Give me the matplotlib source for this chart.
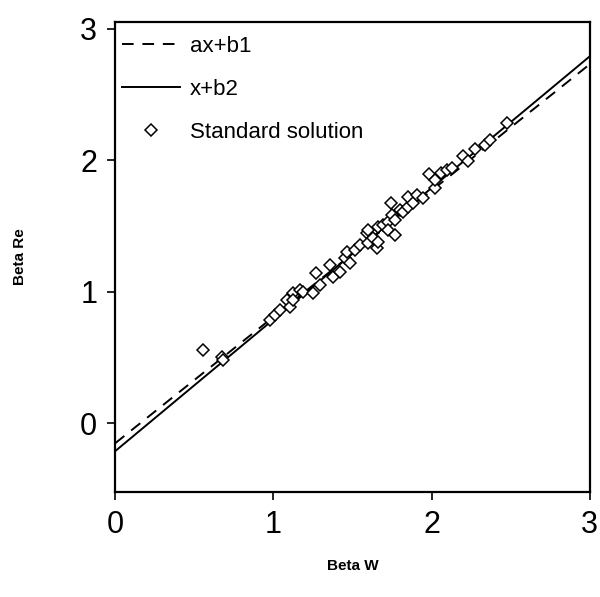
import matplotlib
matplotlib.use("Agg")
import matplotlib.pyplot as plt
import numpy as np

# fitted lines
A, B1 = 0.96, -0.15
B2 = -0.21

# standard solution points (Beta W, Beta Re)
beta_w = [0.556, 0.676, 0.682, 0.979, 1.011, 1.042, 1.087, 1.105, 1.124, 1.124,
          1.169, 1.188, 1.251, 1.270, 1.295, 1.358, 1.377, 1.421, 1.453, 1.466,
          1.485, 1.516, 1.548, 1.592, 1.598, 1.598, 1.630, 1.655, 1.661, 1.661,
          1.693, 1.725, 1.725, 1.744, 1.750, 1.769, 1.769, 1.800, 1.819, 1.851,
          1.851, 1.882, 1.908, 1.946, 1.984, 2.021, 2.021, 2.059, 2.097, 2.129,
          2.198, 2.230, 2.274, 2.337, 2.369, 2.476]
beta_re = [0.558, 0.505, 0.482, 0.786, 0.824, 0.862, 0.938, 0.885, 0.991, 0.938,
           1.014, 0.998, 0.991, 1.143, 1.052, 1.204, 1.112, 1.150, 1.257, 1.302,
           1.219, 1.317, 1.355, 1.446, 1.371, 1.469, 1.409, 1.333, 1.378, 1.492,
           1.507, 1.530, 1.469, 1.674, 1.583, 1.431, 1.545, 1.621, 1.606, 1.644,
           1.720, 1.674, 1.735, 1.712, 1.895, 1.788, 1.849, 1.902, 1.925, 1.940,
           2.031, 1.993, 2.084, 2.115, 2.153, 2.281]

plt.rcParams["font.family"] = ["Liberation Sans", "DejaVu Sans"]

fig = plt.figure(figsize=(6, 5.97), dpi=100)
ax = fig.add_axes([0.192, 0.176, 0.791, 0.787])

xs = np.array([0, 3])
ax.plot(xs, A * xs + B1, color="black", linewidth=1.4, linestyle=(0, (6, 4.5)), label="ax+b1")
ax.plot(xs, xs + B2, color="black", linewidth=1.4, label="x+b2")
ax.plot(beta_w, beta_re, linestyle="none", marker="D", markersize=6.5,
        markerfacecolor="white", markeredgecolor="black", markeredgewidth=1.1,
        label="Standard solution")

ax.set_xlim(0, 3)
ax.set_ylim(-0.52, 3.05)
ax.set_xticks([0, 1, 2, 3])
ax.set_yticks([0, 1, 2, 3])
ax.tick_params(direction="out", length=6, width=1.2, labelsize=22, pad=7)
for s in ax.spines.values():
    s.set_linewidth(1.6)

ax.set_xlabel("Beta W", fontsize=11, fontweight="bold", labelpad=14)
ax.set_ylabel("Beta Re", fontsize=11, fontweight="bold", labelpad=38)

ax.legend(loc="upper left", bbox_to_anchor=(0.0, 0.985), frameon=False,
          fontsize=16, handlelength=2.6, labelspacing=1.0, borderaxespad=0.0,
          handletextpad=0.45, borderpad=0.3)

fig.savefig("out.png", dpi=100)
